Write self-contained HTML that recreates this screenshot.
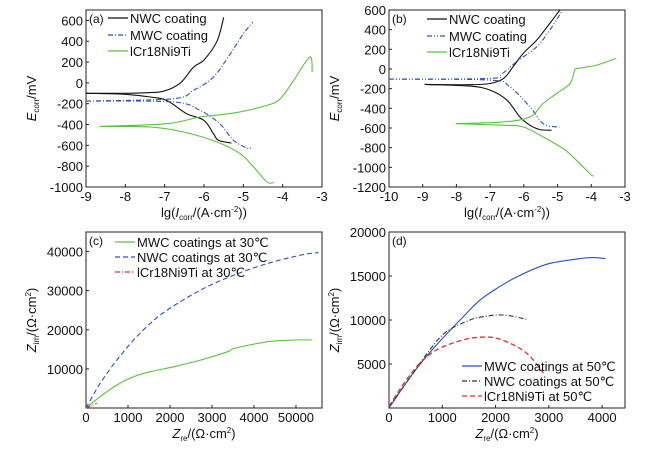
<!DOCTYPE html>
<html><head><meta charset="utf-8">
<style>
body{margin:0;background:#fff}
svg{display:block;font-family:"Liberation Sans",sans-serif}
</style></head>
<body>
<svg id="fig" width="659" height="450" viewBox="0 0 659 450"></svg>
<script>
// ---- Panel (a) data: [lg I, E mV] ----
const aNwcAn = [[-9,-100],[-8,-100],[-7.5,-95],[-7.03,-80],[-6.6,0],[-6.27,150],[-6.0,220],[-5.67,400],[-5.5,630]];
const aNwcCa = [[-9,-100],[-8,-110],[-7.37,-136],[-6.95,-168],[-6.44,-296],[-6.0,-360],[-5.76,-488],[-5.63,-552],[-5.3,-578]];
const aMwcAn = [[-9,-174],[-6.78,-152],[-6.27,-72],[-5.76,56],[-5.33,280],[-5.0,472],[-4.76,584]];
const aMwcCa = [[-9,-174],[-6.78,-184],[-6.1,-264],[-5.6,-392],[-5.25,-552],[-4.9,-626],[-4.8,-626]];
const aSsAn = [[-8.64,-418],[-6.95,-392],[-6.1,-328],[-5.25,-290],[-4.4,-216],[-4.06,-152],[-3.72,24],[-3.31,248],[-3.25,104]];
const aSsCa = [[-8.64,-418],[-7.37,-424],[-6.52,-472],[-5.67,-568],[-5.08,-680],[-4.74,-808],[-4.4,-952],[-4.23,-958]];
// ---- Panel (b) ----
const bNwcAn = [[-8.94,-157],[-7.6,-160],[-7,-147],[-6.6,-96],[-6.32,23],[-6.02,158],[-5.62,294],[-5.23,464],[-4.93,600]];
const bNwcCa = [[-8.94,-157],[-7.6,-174],[-7.0,-215],[-6.5,-317],[-6.12,-487],[-5.82,-572],[-5.52,-616],[-5.18,-623]];
const bMwcAn = [[-10,-103],[-7,-96],[-6.66,-52],[-6.22,73],[-5.62,226],[-5.23,396],[-4.88,583]];
const bMwcCa = [[-10,-103],[-7,-113],[-6.42,-181],[-5.82,-385],[-5.43,-555],[-5.03,-589],[-4.95,-589]];
const bSsAn = [[-8.02,-555],[-6.61,-538],[-5.82,-487],[-5.43,-351],[-5.03,-249],[-4.63,-147],[-4.49,-11],[-4.39,6],[-3.84,40],[-3.27,108]];
const bSsCa = [[-8.02,-555],[-6.61,-572],[-6.02,-589],[-5.43,-691],[-4.83,-810],[-4.44,-928],[-4.04,-1064],[-3.94,-1091]];
// ---- Panel (c): [Zre, Zim] ----
const cMwc = [[0,0],[336,2900],[736,5880],[1136,8010],[1536,9290],[2096,10570],[2736,12270],[3376,14400],[3536,15260],[4336,16960],[4976,17390],[5376,17390]];
const cNwc = [[0,0],[336,6300],[736,12280],[1136,17400],[1536,21650],[1936,25060],[2736,30200],[3536,34030],[4336,37000],[5136,39150],[5536,39740]];
const cSs = [[0,0],[256,1190]];
// ---- Panel (d) ----
const dMwc = [[0,0],[452,3960],[892,7170],[1394,10380],[1708,12260],[2022,13580],[2399,14900],[2964,16340],[3592,16980],[3843,17090],[4063,16980]];
const dNwc = [[0,190],[400,3500],[766,6600],[1080,8680],[1520,10000],[1771,10380],[2148,10570],[2587,10080]];
const dSs = [[0,190],[327,3210],[640,5470],[954,6790],[1394,7740],[1708,8040],[2022,7920],[2399,6980],[2650,5850],[2901,3960]];
// tick labels
const aXTicks = [-9,-8,-7,-6,-5,-4,-3];
const aYTicks = [600,400,200,0,-200,-400,-600,-800,-1000];
const bXTicks = [-10,-9,-8,-7,-6,-5,-4,-3];
const bYTicks = [600,400,200,0,-200,-400,-600,-800,-1000,-1200];
const cXTicks = [0,1000,2000,3000,4000,5000];
const cXLabels = ["0","1000","2000","3000","4000","50000"];
const cYTicks = [10000,20000,30000,40000];
const dXTicks = [0,1000,2000,3000,4000];
const dYTicks = [5000,10000,15000,20000];

const NS="http://www.w3.org/2000/svg";
const svg=document.getElementById('fig');
function mk(tag,attrs,parent){const e=document.createElementNS(NS,tag);for(const k in attrs)e.setAttribute(k,attrs[k]);(parent||svg).appendChild(e);return e;}
function scale(d0,d1,r0,r1){return v=>r0+(v-d0)/(d1-d0)*(r1-r0);}

function panel(id,box,xd,yd,xt,xl,yt,xlabelHTML,ylabelHTML){
  const g=mk('g',{});
  
  
  const X=scale(xd[0],xd[1],box[0],box[2]), Y=scale(yd[0],yd[1],box[3],box[1]);
  const r=mk('rect',{x:box[0],y:box[1],width:box[2]-box[0],height:box[3]-box[1],fill:'none',stroke:'#222','stroke-width':1},g);
  
  
  xt.forEach((v,i)=>{
    mk('line',{x1:X(v),x2:X(v),y1:box[3],y2:box[3]-3,stroke:'#222'},g);
    const t=mk('text',{x:X(v),y:box[3]+14,'text-anchor':'middle','font-size':13,fill:'#111'},g);
    t.textContent=xl?xl[i]:String(v);
    
    
  });
  yt.forEach(v=>{
    mk('line',{x1:box[0],x2:box[0]+3,y1:Y(v),y2:Y(v),stroke:'#222'},g);
    const t=mk('text',{x:box[0]-3,y:Y(v)+5,'text-anchor':'end','font-size':13,fill:'#111'},g);
    t.textContent=String(v);
    
    
  });
  const xl2=mk('text',{x:(box[0]+box[2])/2,y:box[3]+30,'text-anchor':'middle','font-size':13,fill:'#111'},g);
  xl2.innerHTML=xlabelHTML;
  
  
  const yx=box[0]-50, yy=(box[1]+box[3])/2;
  const yl=mk('text',{x:yx,y:yy,'text-anchor':'middle','font-size':13,fill:'#111',transform:`rotate(-90 ${yx} ${yy})`},g);
  yl.innerHTML=ylabelHTML;
  
  
  const pl=mk('text',{x:box[0]+3,y:box[1]+13,'font-size':12,fill:'#111'},g);
  pl.textContent='('+id+')';
  
  
  return {X,Y,g};
}
function series(p,data,color,dash,name,w){
  const P=data.map(pt=>[p.X(pt[0]),p.Y(pt[1])]);
  let d='M'+P[0][0].toFixed(1)+' '+P[0][1].toFixed(1);
  for(let i=0;i<P.length-1;i++){
    const p0=P[i-1]||P[i],p1=P[i],p2=P[i+1],p3=P[i+2]||P[i+1];
    const c1=[p1[0]+(p2[0]-p0[0])/6,p1[1]+(p2[1]-p0[1])/6];
    const c2=[p2[0]-(p3[0]-p1[0])/6,p2[1]-(p3[1]-p1[1])/6];
    d+=' C'+c1.map(v=>v.toFixed(1)).join(' ')+' '+c2.map(v=>v.toFixed(1)).join(' ')+' '+p2.map(v=>v.toFixed(1)).join(' ');
  }
  const e=mk('path',{d,fill:'none',stroke:color,'stroke-width':w||1.1,'stroke-dasharray':dash||'none','stroke-linejoin':'round'},p.g);
  
  
}
function legend(p,x,y,color,dash,label,name){
  const l=mk('line',{x1:x,x2:x+20,y1:y,y2:y,stroke:color,'stroke-width':1.2,'stroke-dasharray':dash||'none'},p.g);
  
  
  const t=mk('text',{x:x+22,y:y+5,'font-size':13,fill:'#111'},p.g);
  t.textContent=label;
  
  
}
const lgLabel='lg(<tspan font-style="italic">I</tspan><tspan font-size="8" dy="3">corr</tspan><tspan dy="-3">/(A·cm</tspan><tspan font-size="8" dy="-5">-2</tspan><tspan dy="5">))</tspan>';
const eLabel='<tspan font-style="italic">E</tspan><tspan font-size="8" dy="3">corr</tspan><tspan dy="-3">/mV</tspan>';
const reLabel='<tspan font-style="italic">Z</tspan><tspan font-size="8" dy="3">re</tspan><tspan dy="-3">/(Ω·cm</tspan><tspan font-size="8" dy="-5">2</tspan><tspan dy="5">)</tspan>';
const imLabel='<tspan font-style="italic">Z</tspan><tspan font-size="8" dy="3">im</tspan><tspan dy="-3">/(Ω·cm</tspan><tspan font-size="8" dy="-5">2</tspan><tspan dy="5">)</tspan>';
const DD='5 2 1 2', DDD='5 2 1 2 1 2', DA='5 3';

const pa=panel('a',[86,10,322,187],[-9,-3],[-1000,700],aXTicks,null,aYTicks,lgLabel,eLabel);
series(pa,aNwcAn,'#111',null,'nwc-anodic-a');series(pa,aNwcCa,'#111',null,'nwc-cathodic-a');
series(pa,aMwcAn,'#2a4fc0',DD,'mwc-anodic-a');series(pa,aMwcCa,'#2a4fc0',DD,'mwc-cathodic-a');
series(pa,aSsAn,'#5cc040',null,'steel-anodic-a');series(pa,aSsCa,'#5cc040',null,'steel-cathodic-a');
legend(pa,108,18,'#111',null,'NWC coating','legend-nwc-a');
legend(pa,108,35,'#2a4fc0',DD,'MWC coating','legend-mwc-a');
legend(pa,108,51,'#5cc040',null,'lCr18Ni9Ti','legend-steel-a');

const pb=panel('b',[389,10,625,187],[-10,-3],[-1200,600],bXTicks,null,bYTicks,lgLabel,eLabel);
series(pb,bNwcAn,'#111',null,'nwc-anodic-b');series(pb,bNwcCa,'#111',null,'nwc-cathodic-b');
series(pb,bMwcAn,'#2a4fc0',DDD,'mwc-anodic-b');series(pb,bMwcCa,'#2a4fc0',DDD,'mwc-cathodic-b');
series(pb,bSsAn,'#5cc040',null,'steel-anodic-b');series(pb,bSsCa,'#5cc040',null,'steel-cathodic-b');
legend(pb,427,19,'#111',null,'NWC coating','legend-nwc-b');
legend(pb,427,36,'#2a4fc0',DDD,'MWC coating','legend-mwc-b');
legend(pb,427,52,'#5cc040',null,'lCr18Ni9Ti','legend-steel-b');

const pc=panel('c',[86,232,322,408],[0,5620],[0,45000],cXTicks,cXLabels,cYTicks,reLabel,imLabel);
series(pc,cMwc,'#5cc040',null,'mwc-30c');
series(pc,cNwc,'#2a4fc0',DA,'nwc-30c');
series(pc,cSs,'#e03030',DD,'steel-30c');
legend(pc,115,242,'#5cc040',null,'MWC coatings at 30℃','legend-mwc-c');
legend(pc,115,257,'#2a4fc0',DA,'NWC coatings at 30℃','legend-nwc-c');
legend(pc,115,272,'#e03030',DD,'lCr18Ni9Ti at 30℃','legend-steel-c');

const pd=panel('d',[389,232,625,408],[0,4430],[0,20000],dXTicks,null,dYTicks,reLabel,imLabel);
series(pd,dMwc,'#2a4fc0',null,'mwc-50c');
series(pd,dNwc,'#333',DD,'nwc-50c');
series(pd,dSs,'#e03030',DA,'steel-50c',1.3);
legend(pd,462,366,'#2a4fc0',null,'MWC coatings at 50℃','legend-mwc-d');
legend(pd,462,381,'#333',DD,'NWC coatings at 50℃','legend-nwc-d');
legend(pd,462,396,'#e03030',DA,'lCr18Ni9Ti at 50℃','legend-steel-d');
</script>
</body></html>
